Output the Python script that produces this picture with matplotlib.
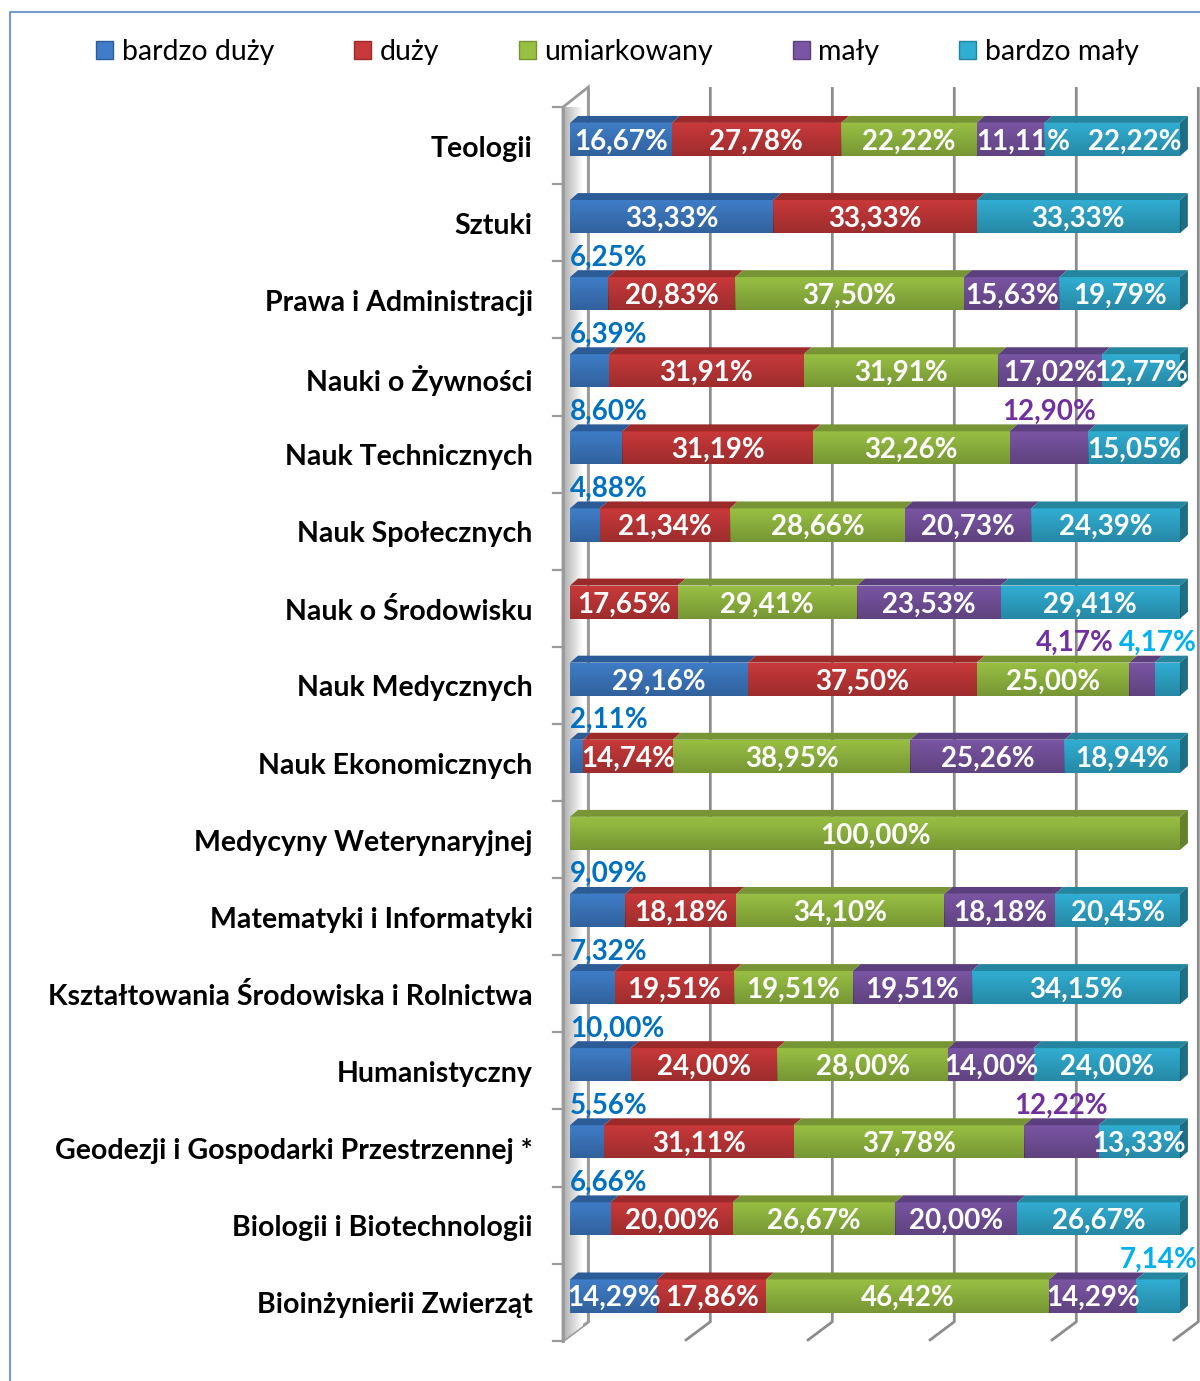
import numpy as np
import matplotlib.pyplot as plt
from matplotlib.patches import Polygon, Patch
from matplotlib.lines import Line2D

# dane
kategorie = ['Teologii', 'Sztuki', 'Prawa i Administracji', 'Nauki o Żywności',
             'Nauk Technicznych', 'Nauk Społecznych', 'Nauk o Środowisku',
             'Nauk Medycznych', 'Nauk Ekonomicznych', 'Medycyny Weterynaryjnej',
             'Matematyki i Informatyki', 'Kształtowania Środowiska i Rolnictwa',
             'Humanistyczny', 'Geodezji i Gospodarki Przestrzennej *',
             'Biologii i Biotechnologii', 'Bioinżynierii Zwierząt']
serie = ['bardzo duży', 'duży', 'umiarkowany', 'mały', 'bardzo mały']
bardzo_duzy = [16.67, 33.33, 6.25, 6.39, 8.60, 4.88, 0, 29.16, 2.11, 0, 9.09, 7.32, 10.00, 5.56, 6.66, 14.29]
duzy = [27.78, 33.33, 20.83, 31.91, 31.19, 21.34, 17.65, 37.50, 14.74, 0, 18.18, 19.51, 24.00, 31.11, 20.00, 17.86]
umiarkowany = [22.22, 0, 37.50, 31.91, 32.26, 28.66, 29.41, 25.00, 38.95, 100.00, 34.10, 19.51, 28.00, 37.78, 26.67, 46.42]
maly = [11.11, 0, 15.63, 17.02, 12.90, 20.73, 23.53, 4.17, 25.26, 0, 18.18, 19.51, 14.00, 12.22, 20.00, 14.29]
bardzo_maly = [22.22, 33.33, 19.79, 12.77, 15.05, 24.39, 29.41, 4.17, 18.94, 0, 20.45, 34.15, 24.00, 13.33, 26.67, 7.14]

# etykiety nad słupkiem (wiersz, seria)
nad = {(2, 0), (3, 0), (4, 0), (5, 0), (8, 0), (10, 0), (11, 0), (12, 0), (13, 0), (14, 0),
       (4, 3), (7, 3), (13, 3), (7, 4), (15, 4)}
# ręczne przesunięcia etykiet w x
przesun = {(0, 3): 2.0, (0, 4): 3.7, (7, 3): -11, (7, 4): -1.5}

kol_przod = ['#3F7DC8', '#C9393A', '#98C043', '#7A55A3', '#31AED3']
kol_gora = ['#2B5C98', '#9B2A2A', '#779535', '#5C3F7E', '#24859F']
kol_bok = ['#244F85', '#842424', '#66812D', '#4E356B', '#1E6E83']
kol_etyk = ['#0070C0', '#C00000', '#76923C', '#7030A0', '#00B0F0']

dane = np.array([bardzo_duzy, duzy, umiarkowany, maly, bardzo_maly]).T
n = len(kategorie)

fig = plt.figure(figsize=(12, 13.81), dpi=100)
ax = fig.add_axes([0.45, 0.0152, 0.55, 0.9269])
ax.set_xlim(-4.92, 103.28)
ax.set_ylim(15.83, -0.772)
ax.axis('off')

h = 0.43      # wysokość przodu słupka
dx, dy = 1.3, 0.09   # głębia słupka
gx, gy = 3.0, 0.246  # głębia ściany
xs = -1.15
yb = n - 0.42
fs_wart = 20

# siatka
for x in range(0, 101, 20):
    ax.plot([x + gx, x + gx, x + gx - (gx - xs)], [-0.68, yb - gy, yb],
            color='#8C8C8C', lw=2, zorder=1, solid_capstyle='butt')

# lewa ściana
sciana = Polygon([(xs, -0.42), (gx, -0.68), (gx, yb - gy), (xs, yb)],
                 closed=True, facecolor='white', edgecolor='#9A9A9A', lw=2, zorder=1.5)
ax.add_patch(sciana)
cien = np.linspace(0.68, 1.0, 64)[None, :, None] * np.ones((1, 64, 3))
im = ax.imshow(cien, extent=(xs, gx * 0.7, yb, -0.42), aspect='auto', zorder=1.6)
im.set_clip_path(sciana)
ax.plot([xs, xs], [-0.42, yb], color='#9A9A9A', lw=2, zorder=1.7)
for k in range(n + 1):
    ax.plot([-2.8, xs], [k - 0.42, k - 0.42], color='#9A9A9A', lw=1.6, zorder=1.7)

# gradient na przodzie słupka
grad = np.zeros((32, 1, 4))
grad[:, 0, 3] = np.linspace(0.0, 0.22, 32)

for i in range(n):
    lewo = 0.0
    ostatni = max(j for j in range(5) if dane[i, j] > 0)
    for j in range(5):
        w = dane[i, j]
        if w <= 0:
            continue
        ax.barh(i, w, left=lewo, height=h, color=kol_przod[j], zorder=3)
        ax.imshow(grad, extent=(lewo, lewo + w, i + h / 2, i - h / 2),
                  aspect='auto', zorder=3.1)
        gora = i - h / 2
        ax.add_patch(Polygon([(lewo, gora), (lewo + w, gora), (lewo + w + dx, gora - dy),
                              (lewo + dx, gora - dy)], closed=True,
                             facecolor=kol_gora[j], edgecolor='none', zorder=3))
        if j == ostatni:
            p = lewo + w
            ax.add_patch(Polygon([(p, gora), (p + dx, gora - dy), (p + dx, i + h / 2 - dy),
                                  (p, i + h / 2)], closed=True,
                                 facecolor=kol_bok[j], edgecolor='none', zorder=3))
        tekst = f'{w:.2f}%'.replace('.', ',')
        sx = przesun.get((i, j), 0)
        if (i, j) in nad:
            if j == 0:
                ax.text(lewo, i - 0.47, tekst, ha='left', va='center', color=kol_etyk[j],
                        fontsize=fs_wart, fontweight='bold', family='Lato', zorder=5)
            else:
                ax.text(lewo + w / 2 + sx, i - 0.47, tekst, ha='center', va='center',
                        color=kol_etyk[j], fontsize=fs_wart, fontweight='bold', family='Lato',
                        zorder=5, clip_on=False)
        else:
            ax.text(lewo + w / 2 + sx, i + 0.03, tekst, ha='center', va='center', color='white',
                    fontsize=fs_wart, fontweight='bold', family='Lato', zorder=5)
        lewo += w
    ax.text(-6.1, i + 0.12, kategorie[i], ha='right', va='center', fontsize=20.5,
            fontweight='bold', family='Lato', color='black', clip_on=False)

# legenda
uchwyty = [Patch(facecolor=kol_przod[j], edgecolor=kol_gora[j]) for j in range(5)]
fig.legend(uchwyty, serie, loc='center', bbox_to_anchor=(0.5146, 0.9623), ncol=5,
           frameon=False, prop={'family': 'Lato', 'size': 20.5}, handlelength=0.6,
           handleheight=0.6, handletextpad=0.3, columnspacing=2.8)

# ramka
fig.add_artist(Line2D([10 / 1200, 10 / 1200, 1.0], [0.0, 1 - 12 / 1381, 1 - 12 / 1381],
                      transform=fig.transFigure, color='#7A98CC', lw=1.5))

fig.savefig('out.png', dpi=100)
